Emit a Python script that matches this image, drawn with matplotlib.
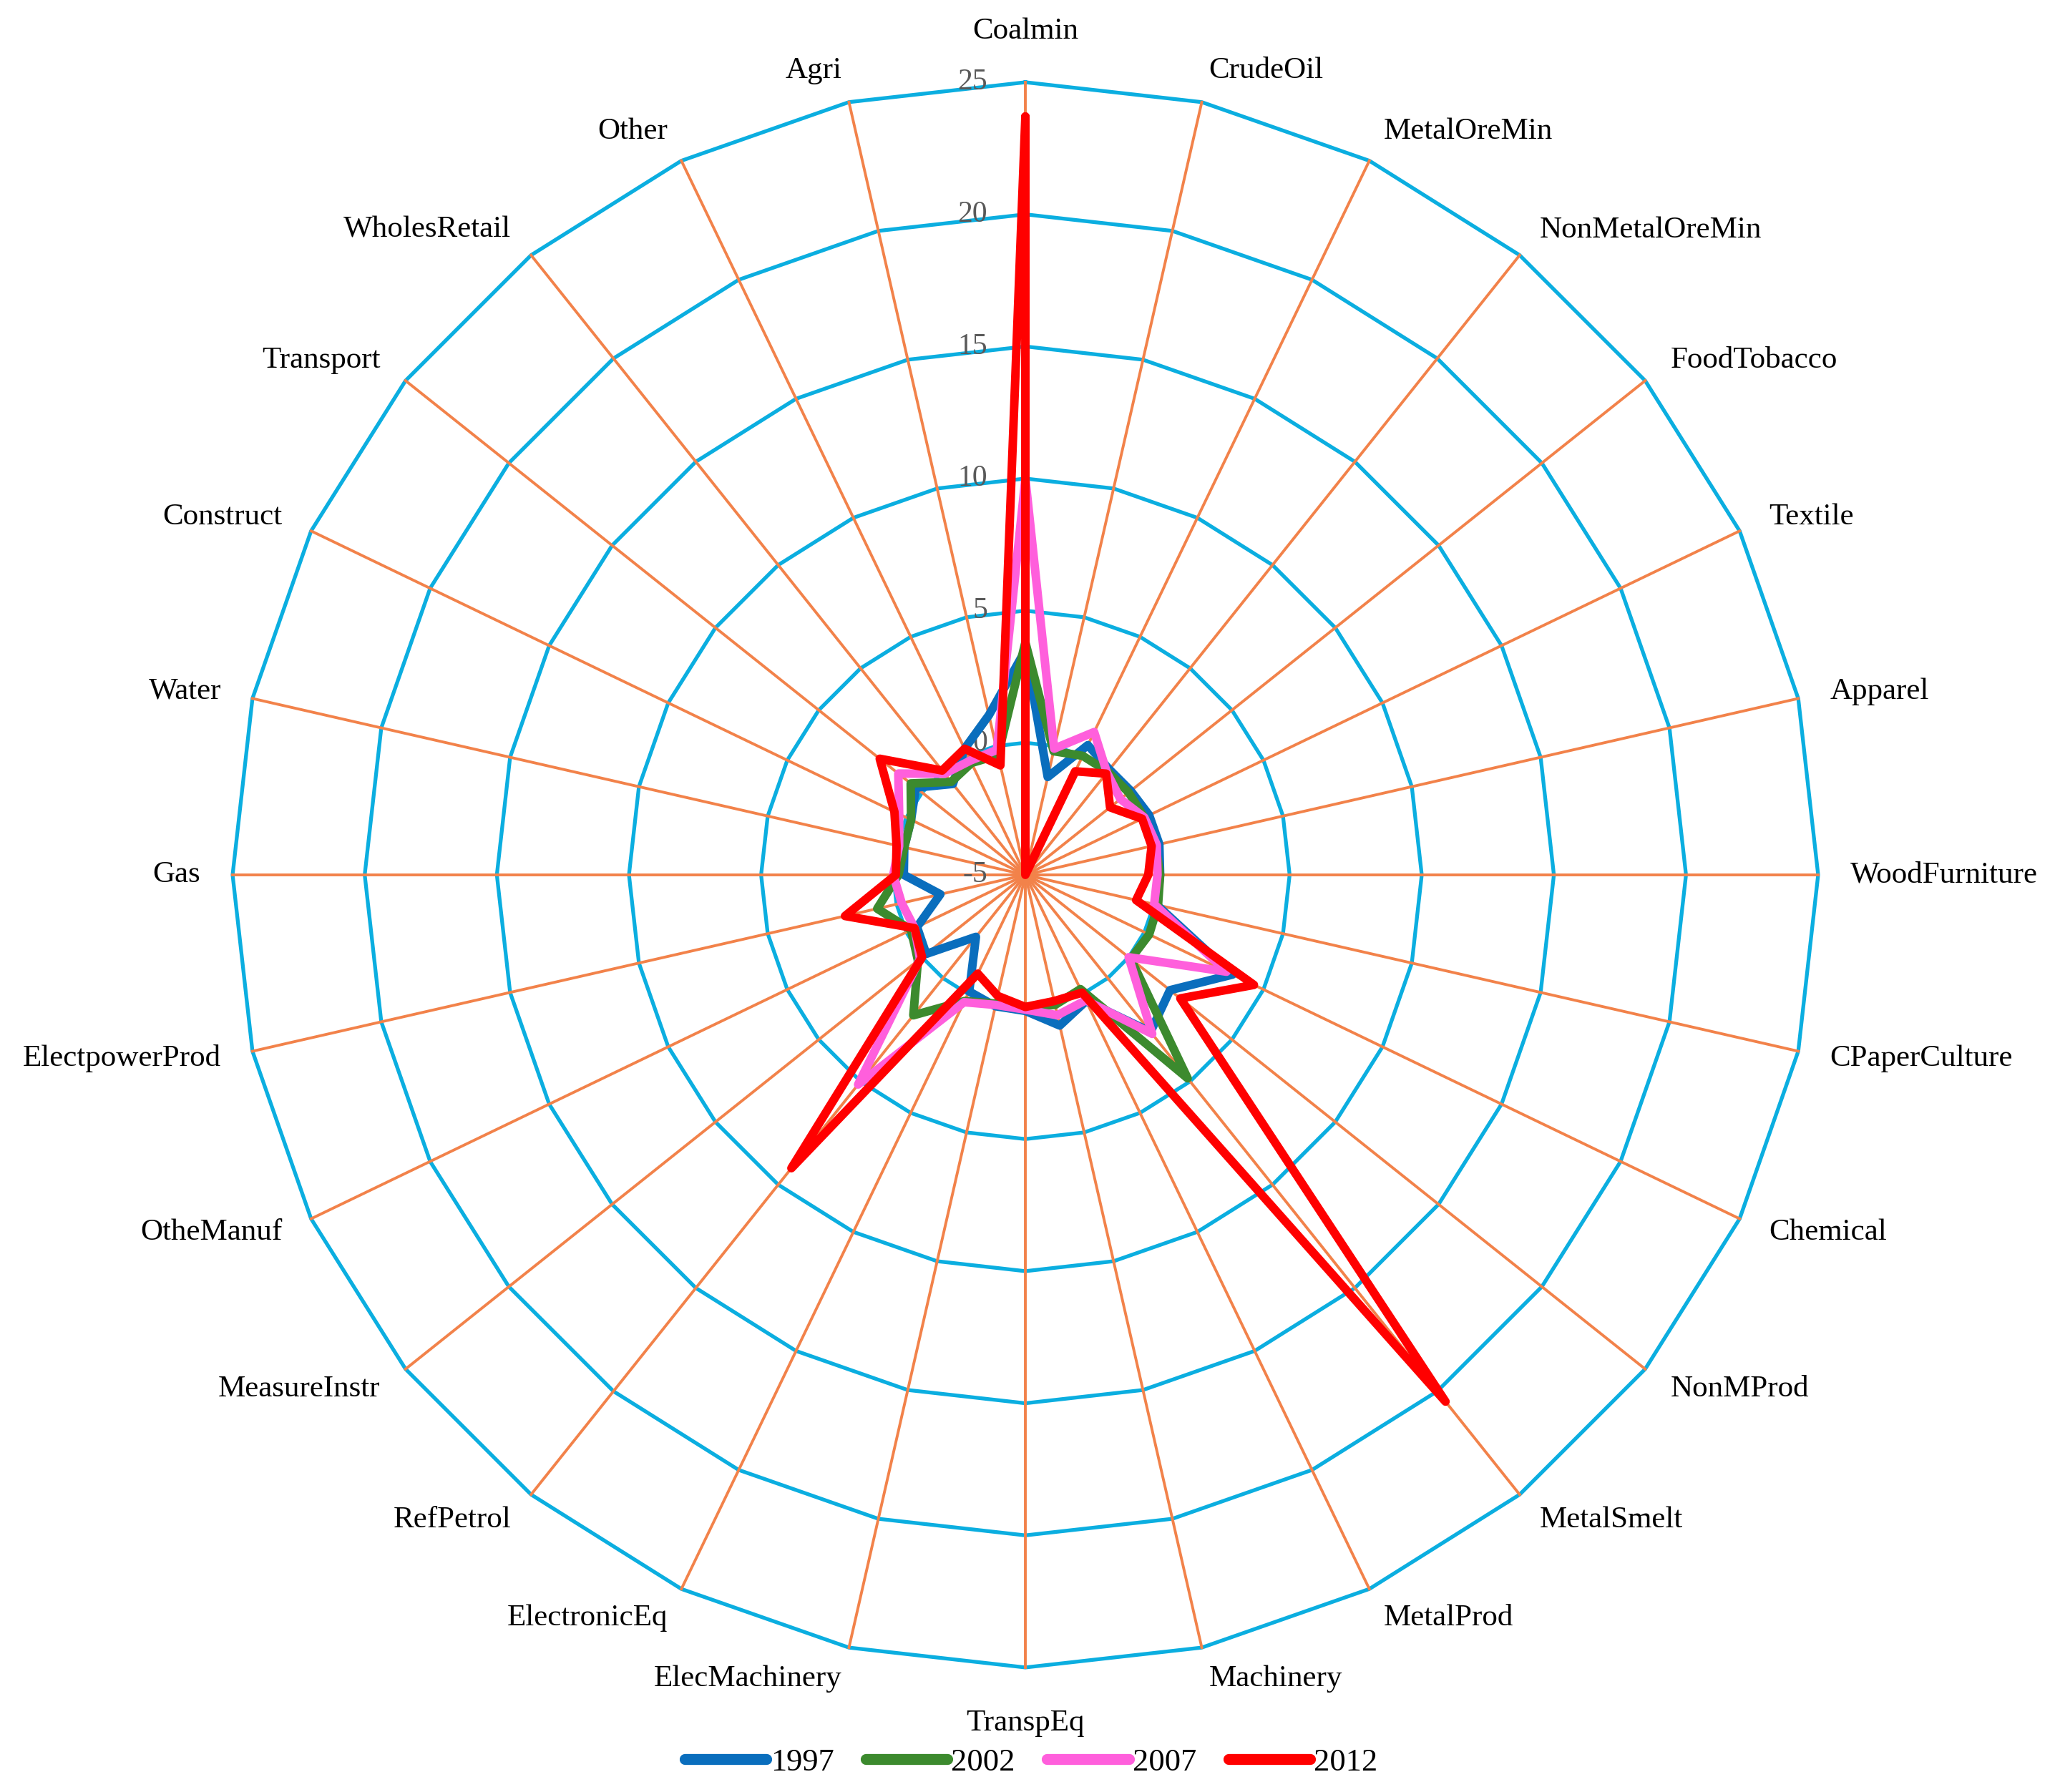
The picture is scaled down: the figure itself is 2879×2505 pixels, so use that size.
import numpy as np
import matplotlib
matplotlib.use('Agg')
import matplotlib.pyplot as plt
from matplotlib.transforms import offset_copy
from matplotlib.lines import Line2D

categories = ['Coalmin', 'CrudeOil', 'MetalOreMin', 'NonMetalOreMin', 'FoodTobacco',
              'Textile', 'Apparel', 'WoodFurniture', 'CPaperCulture', 'Chemical',
              'NonMProd', 'MetalSmelt', 'MetalProd', 'Machinery', 'TranspEq',
              'ElecMachinery', 'ElectronicEq', 'RefPetrol', 'MeasureInstr', 'OtheManuf',
              'ElectpowerProd', 'Gas', 'Water', 'Construct', 'Transport',
              'WholesRetail', 'Other', 'Agri']

years = ['1997', '2002', '2007', '2012']

v1997 = [3.5, -1.2, 0.45, 0.1, 0.1, 0.2, 0.2, 0.1, 0.1, 3.7,
         2.0, 2.6, 0.3, 0.85, 0.15, 0.1, -0.1, -2.0, -0.2, -0.45,
         -1.7, -0.4, -0.3, -0.2, 0.3, -0.6, 0.3, 1.2]
v2002 = [3.8, -0.2, 0.0, 0.0, 0.0, 0.0, 0.05, 0.1, 0.15, 0.2,
         0.1, 4.85, -0.2, 0.05, 0.0, 0.0, 0.3, 1.8, 0.2, -0.2,
         0.75, -0.2, -0.3, -0.2, 0.55, -0.5, -0.3, -0.35]
v2007 = [10.0, -0.1, 1.0, -0.05, -0.4, 0.0, 0.1, 0.0, 0.0, 3.45,
         0.0, 2.7, 0.27, 0.45, 0.1, 0.05, 0.35, 5.15, 0.1, -0.35,
         -0.2, 0.0, -0.1, 0.3, 1.15, -0.1, -0.2, -0.15]
v2012 = [23.7, -5.0, -0.65, -0.1, -0.9, -0.1, -0.1, -0.35, -0.7, 4.6,
         2.5, 20.5, -0.05, -0.1, 0.0, -0.3, -0.85, 9.2, 0.0, -0.35,
         2.0, -0.1, 0.0, 0.5, 2.05, 0.05, 0.3, -0.75]

series = [v1997, v2002, v2007, v2012]
series_colors = ['#0A6EBD', '#3C8A2E', '#FF5FDC', '#FF0000']

ring_levels = [-5, 0, 5, 10, 15, 20, 25]
ring_labels = ['-5', '0', '5', '10', '15', '20', '25']

ring_color = '#0BAEE0'
spoke_color = '#F2824A'

plt.rcParams['font.family'] = ['Liberation Serif', 'DejaVu Serif']

fig = plt.figure(figsize=(28.79, 25.05), dpi=100)
ax = fig.add_axes([0.1129, 0.0695, 0.7697, 0.8846], projection='polar')
ax.set_theta_zero_location('N')
ax.set_theta_direction(-1)
ax.set_ylim(ring_levels[0], ring_levels[-1])
ax.grid(False)
ax.spines['polar'].set_visible(False)
ax.set_xticks([])
ax.set_yticks([])
ax.patch.set_visible(False)

n = len(categories)
theta = np.arange(n) * 2 * np.pi / n
theta_c = np.append(theta, theta[0])

# polygon rings
for lvl in ring_levels[1:]:
    ax.plot(theta_c, [lvl] * (n + 1), color=ring_color, lw=3.8, zorder=1,
            clip_on=False, solid_joinstyle='miter')
# spokes
for t in theta:
    ax.plot([t, t], [ring_levels[0], ring_levels[-1]], color=spoke_color, lw=2.8,
            zorder=2, clip_on=False)

# ring value labels
trans = offset_copy(ax.transData, fig=fig, x=-53, y=0, units='dots')
for lvl, lab in zip(ring_levels, ring_labels):
    ax.text(0, lvl, lab, transform=trans, ha='right', va='center',
            fontsize=30, color='#595959', zorder=3)

# data series
for vals, col, lab in zip(series, series_colors, years):
    ax.plot(theta_c, list(vals) + [vals[0]], color=col, lw=8.6, label=lab,
            solid_joinstyle='round', solid_capstyle='round', zorder=5, clip_on=False)

# category labels
for t, name in zip(theta, categories):
    s, c = np.sin(t), np.cos(t)
    r_lab = 26.22
    if abs(s) < 0.05:
        ha = 'center'
        if c > 0:
            va = 'bottom'
            r_lab = 26.4
        else:
            va = 'top'
            r_lab = 26.6
    else:
        ha = 'left' if s > 0 else 'right'
        va = 'center'
    ax.text(t, r_lab, name, ha=ha, va=va, fontsize=31, color='black', zorder=6)

handles = [Line2D([0], [0], color=col, lw=11, solid_capstyle='round') for col in series_colors]
fig.legend(handles, years, loc='center', bbox_to_anchor=(0.5006, 0.0164), ncol=4,
           frameon=False, fontsize=32, handlelength=2.57, handletextpad=0.12,
           columnspacing=1.0)

fig.savefig('out.png', dpi=100, facecolor='white')
